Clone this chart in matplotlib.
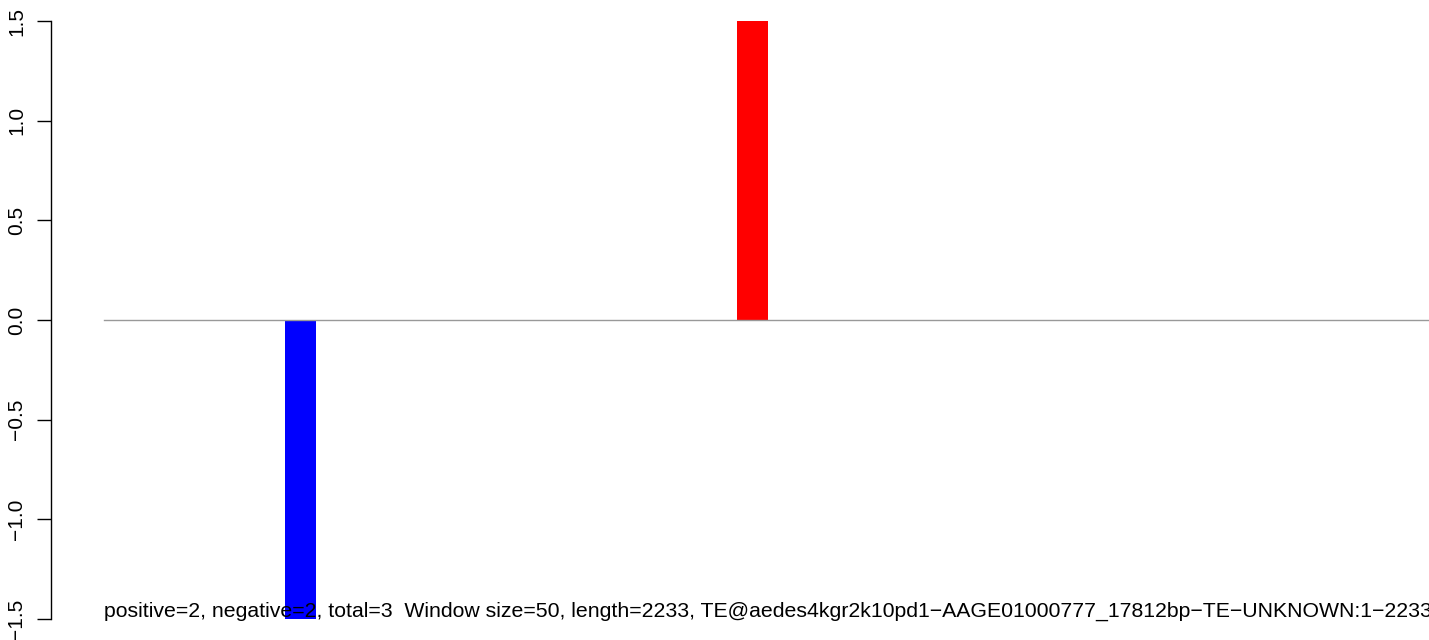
import matplotlib
matplotlib.use("Agg")
import matplotlib.pyplot as plt

# windows along the TE (bp, window centres) and their scores
window_size = 50
seq_length = 2233
window_pos = [317, 1046]
scores = [-1.5, 1.5]
bar_colors = ["blue", "red"]
yticks = [-1.5, -1.0, -0.5, 0.0, 0.5, 1.0, 1.5]
caption = ("positive=2, negative=2, total=3  Window size=50, length=2233, "
           "TE@aedes4kgr2k10pd1\u2212AAGE01000777_17812bp\u2212TE\u2212UNKNOWN:1\u22122233")

plt.rcParams["font.family"] = ["Liberation Sans", "DejaVu Sans"]

W, H = 1429, 640
fig = plt.figure(figsize=(W / 100, H / 100), dpi=100)
ax = fig.add_axes([51 / W, 21 / H, (W - 51) / W, 598 / H])

ax.bar(window_pos, scores, width=window_size, color=bar_colors, linewidth=0)
ax.plot([0, seq_length], [0, 0], color="#999999", lw=1.0, zorder=3)

ax.set_xlim(-85, 2137)
ax.set_ylim(-1.5, 1.5)
ax.set_yticks(yticks)
ax.set_yticklabels([f"{v:.1f}".replace("-", "\u2212") for v in yticks],
                   rotation=90, va="center", fontsize=15)
ax.tick_params(axis="y", length=10, width=1.0, pad=8)
ax.set_xticks([])
for s in ["top", "right", "bottom"]:
    ax.spines[s].set_visible(False)
ax.spines["left"].set_linewidth(1.0)
ax.spines["left"].set_bounds(-1.5, 1.5)
ax.patch.set_visible(False)

ax.text(0, -1.46, caption, fontsize=15.3, ha="left", va="center",
        clip_on=False, zorder=5)

fig.savefig("out.png", dpi=100)
